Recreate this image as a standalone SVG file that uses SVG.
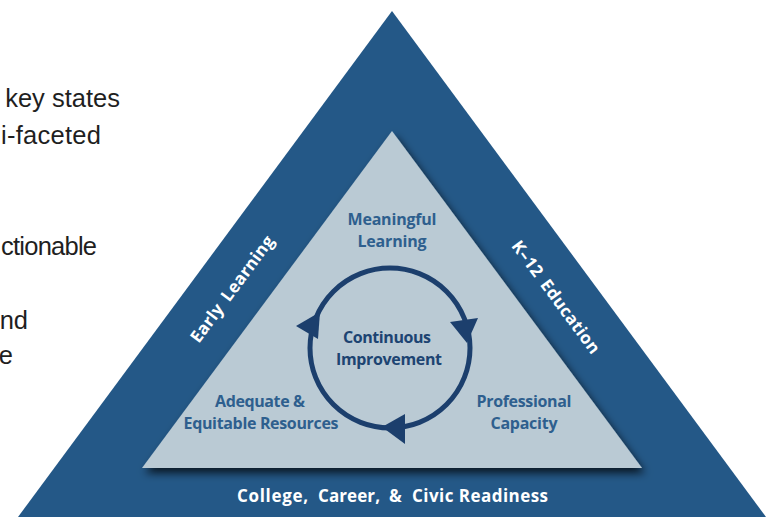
<svg xmlns="http://www.w3.org/2000/svg" width="780" height="517" viewBox="0 0 780 517">
<defs>
<style>
.side{font-family:"Liberation Sans",Arial,sans-serif;font-size:25.5px;fill:#1f1f1f}
.lbl{font-family:"Open Sans","Noto Sans",sans-serif;font-weight:700;font-size:16px;fill:#2e5f8e;text-anchor:middle}
.ci{font-family:"Open Sans","Noto Sans",sans-serif;font-weight:700;font-size:16px;fill:#1d4472;text-anchor:middle}
.wht{font-family:"Open Sans","Noto Sans",sans-serif;font-weight:700;font-size:17px;fill:#ffffff;text-anchor:middle}
.arrowhead{fill:#1c3f6d}
</style>
<filter id="sh" x="-10%" y="-10%" width="130%" height="130%">
<feDropShadow dx="3" dy="5" stdDeviation="4" flood-color="#000" flood-opacity="0.75"/>
</filter>
</defs>
<rect width="780" height="517" fill="#ffffff"/>
<g id="sidetext">
<text class="side" x="120" y="107" text-anchor="end">key states</text>
<text class="side" x="101" y="144" text-anchor="end" textLength="100">i-faceted</text>
<text class="side" x="97" y="255" text-anchor="end" textLength="96">ctionable</text>
<text class="side" x="28" y="329" text-anchor="end">nd</text>
<text class="side" x="13" y="364" text-anchor="end">e</text>
</g>
<g id="outer">
<polygon points="392,11 766,517 18,517" fill="#245887"/>
<text class="wht" transform="translate(232,289) rotate(-53.5)" y="6" textLength="128" word-spacing="3">Early Learning</text>
<text class="wht" transform="translate(556,297) rotate(53.5)" y="6" textLength="136" word-spacing="3">K–12 Education</text>
<text class="wht" y="502" style="text-anchor:start"><tspan x="237" textLength="71">College,</tspan><tspan x="318" textLength="62">Career,</tspan><tspan x="389">&amp;</tspan><tspan x="412" textLength="136">Civic Readiness</tspan></text>
</g>
<g id="inner">
<polygon points="392,131 642,468 142,468" fill="#bacad4" filter="url(#sh)"/>
</g>
<g id="meaningful">
<text class="lbl" x="392" y="225" textLength="89">Meaningful</text>
<text class="lbl" x="392" y="247" textLength="69">Learning</text>
</g>
<g id="adequate">
<text class="lbl" x="260" y="407" textLength="90">Adequate &amp;</text>
<text class="lbl" x="261" y="429" textLength="155">Equitable Resources</text>
</g>
<g id="professional">
<text class="lbl" x="524" y="407" textLength="95">Professional</text>
<text class="lbl" x="524" y="429" textLength="67">Capacity</text>
</g>
<g id="continuous">
<text class="ci" x="387" y="343" textLength="88">Continuous</text>
<text class="ci" x="389" y="365" textLength="106">Improvement</text>
</g>
<g id="connectors">
<circle cx="390" cy="348" r="80" fill="none" stroke="#1c3f6d" stroke-width="5"/>
<polygon class="arrowhead" points="296,326 320,312 318,339"/>
<polygon class="arrowhead" points="450,322 478,318 467,343"/>
<polygon class="arrowhead" points="382,427 405,414 405,444"/>
</g>
</svg>
